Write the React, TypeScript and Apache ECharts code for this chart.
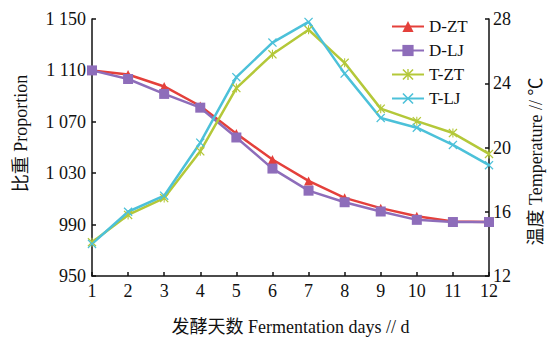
import React, { useEffect, useRef } from "react";
import * as echarts from "echarts";

const days = ["1", "2", "3", "4", "5", "6", "7", "8", "9", "10", "11", "12"];
const dZT = [1110, 1106.8, 1097.5, 1082.3, 1060.8, 1040.7, 1024, 1010.8, 1002.8, 996.5, 992.5, 992];
const dLJ = [1110, 1103.3, 1091.7, 1081, 1057.8, 1033.6, 1016.4, 1007.4, 1000.2, 993.7, 992, 992];
const tZT = [14.1, 15.8, 16.85, 19.76, 23.7, 25.8, 27.33, 25.27, 22.42, 21.64, 20.9, 19.6];
const tLJ = [14.0, 16.0, 17.0, 20.3, 24.38, 26.53, 27.82, 24.6, 21.84, 21.23, 20.16, 18.9];
const proportionMin = 950;
const proportionMax = 1150;
const proportionStep = 40;
const tempMin = 12;
const tempMax = 28;
const tempStep = 4;

const FONT = '"Liberation Serif", "Noto Sans CJK SC", serif';
const X_SYMBOL = "path://M0,1 L1,0 L5,4 L9,0 L10,1 L6,5 L10,9 L9,10 L5,6 L1,10 L0,9 L4,5 Z";
const STAR_SYMBOL =
  "path://M0,1 L1,0 L5,4 L9,0 L10,1 L6,5 L10,9 L9,10 L5,6 L1,10 L0,9 L4,5 Z M4.4,0 L5.6,0 L5.6,10 L4.4,10 Z";

const fmtProportion = (v: number) => {
  const n = Math.round(v + proportionMin);
  if (n >= 1000) {
    const s = String(n);
    return s.slice(0, s.length - 3) + " " + s.slice(s.length - 3);
  }
  return String(n);
};

export default function App() {
  const ref = useRef<HTMLDivElement>(null);
  useEffect(() => {
    if (!ref.current) return;
    const chart = echarts.init(ref.current, null, { renderer: "svg" });
    const axisLine = { show: true, lineStyle: { color: "#111", width: 1.5 } };
    const axisTick = { show: true, inside: true, length: 4, lineStyle: { color: "#111", width: 1.5 } };
    const labelStyle = { color: "#111", fontSize: 18, fontFamily: FONT };
    chart.setOption({
      animation: false,
      backgroundColor: "#fff",
      grid: { left: 92, right: 62, top: 19, bottom: 58, containLabel: false },
      legend: {
        orient: "vertical",
        left: 386,
        top: 13,
        itemWidth: 32,
        itemHeight: 14,
        itemGap: 7,
        textStyle: { color: "#111", fontSize: 17, fontFamily: FONT },
        data: ["D-ZT", "D-LJ", "T-ZT", "T-LJ"],
      },
      xAxis: {
        type: "category",
        data: days,
        boundaryGap: false,
        axisLine,
        axisTick: { ...axisTick, alignWithLabel: true },
        axisLabel: { ...labelStyle, margin: 6 },
        name: "发酵天数 Fermentation days // d",
        nameLocation: "middle",
        nameGap: 42,
        nameTextStyle: { ...labelStyle },
        splitLine: { show: false },
      },
      yAxis: [
        {
          type: "value",
          position: "left",
          min: 0,
          max: proportionMax - proportionMin,
          interval: proportionStep,
          axisLine,
          axisTick,
          axisLabel: { ...labelStyle, margin: 6, formatter: fmtProportion },
          splitLine: { show: false },
          name: "比重 Proportion",
          nameLocation: "middle",
          nameRotate: 90,
          nameGap: 62,
          nameTextStyle: { ...labelStyle, padding: [0, 0, 0, 28] },
        },
        {
          type: "value",
          position: "right",
          min: tempMin,
          max: tempMax,
          interval: tempStep,
          axisLine,
          axisTick,
          axisLabel: { ...labelStyle, margin: 4 },
          splitLine: { show: false },
          name: "温度 Temperature // ℃",
          nameLocation: "middle",
          nameRotate: 90,
          nameGap: 38,
          nameTextStyle: { ...labelStyle, padding: [0, 28, 0, 0] },
        },
      ],
      series: [
        {
          name: "D-ZT",
          type: "line",
          yAxisIndex: 0,
          data: dZT.map((v) => v - proportionMin),
          color: "#e4403b",
          lineStyle: { width: 2.5 },
          symbol: "triangle",
          symbolSize: 9,
          showAllSymbol: true,
        },
        {
          name: "D-LJ",
          type: "line",
          yAxisIndex: 0,
          data: dLJ.map((v) => v - proportionMin),
          color: "#8e6dba",
          lineStyle: { width: 2.5 },
          symbol: "rect",
          symbolSize: 10,
          showAllSymbol: true,
        },
        {
          name: "T-ZT",
          type: "line",
          yAxisIndex: 1,
          data: tZT,
          color: "#b4c839",
          lineStyle: { width: 2.5 },
          symbol: STAR_SYMBOL,
          symbolSize: 9,
          showAllSymbol: true,
        },
        {
          name: "T-LJ",
          type: "line",
          yAxisIndex: 1,
          data: tLJ,
          color: "#4cc1d9",
          lineStyle: { width: 2.5 },
          symbol: X_SYMBOL,
          symbolSize: 9,
          showAllSymbol: true,
        },
      ],
    });
    return () => chart.dispose();
  }, []);
  return (
    <div
      ref={ref}
      style={{ position: "fixed", left: 0, top: 0, width: 553, height: 341, background: "#fff" }}
    />
  );
}
